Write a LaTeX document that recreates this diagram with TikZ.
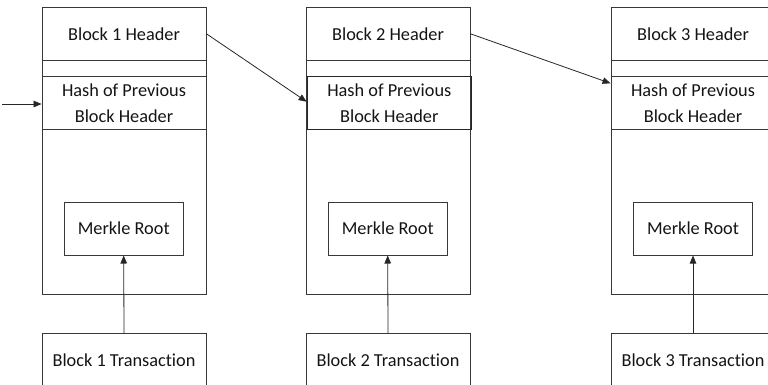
\documentclass[tikz,border=0pt]{standalone}
\usepackage{fontspec}
\setmainfont[Ligatures={NoCommon}]{Carlito}
\usetikzlibrary{arrows.meta}
\begin{document}
\begin{tikzpicture}[x=1pt,y=-1pt,
  every node/.style={font=\fontsize{18.3}{26}\selectfont, text=black!92},
  box/.style={draw=black!78, line width=0.9pt, inner sep=0pt, align=center, anchor=center},
  outerbox/.style={box, minimum width=164pt, minimum height=287pt},
  headbox/.style={box, minimum width=164pt, minimum height=53pt},
  hashbox/.style={box, minimum width=164pt, minimum height=52.6pt},
  merklebox/.style={box, minimum width=118.7pt, minimum height=52.7pt},
  txbox/.style={box, minimum width=164pt, minimum height=53pt},
  link/.style={draw=black!85, line width=0.8pt, -{Triangle[length=8pt,width=6.5pt]}}
]
\useasboundingbox (0,0) rectangle (768,384);
% Block 1
\node[outerbox] (o1) at (124,150.8) {};
\node[headbox] (hd1) at (124,33.8) {Block 1 Header};
\node[hashbox] (h1) at (124,103) {Hash of Previous\\Block Header};
\node[merklebox] (m1) at (123.7,228.7) {Merkle Root};
\node[txbox] (t1) at (124,360) {Block 1 Transaction};
% Block 2
\node[outerbox] (o2) at (388,150.8) {};
\node[headbox] (hd2) at (388,33.8) {Block 2 Header};
\node[hashbox, line width=1.3pt, draw=black!85] (h2) at (389.3,103) {Hash of Previous\\Block Header};
\node[merklebox] (m2) at (387.7,228.7) {Merkle Root};
\node[txbox] (t2) at (388,360) {Block 2 Transaction};
% Block 3
\node[outerbox] (o3) at (693,150.8) {};
\node[headbox] (hd3) at (693,33.8) {Block 3 Header};
\node[hashbox] (h3) at (693,103) {Hash of Previous\\Block Header};
\node[merklebox] (m3) at (693,228.7) {Merkle Root};
\node[txbox] (t3) at (693,360) {Block 3 Transaction};
% connectors
\coordinate (start) at (2,104);
\draw[link] (start) -- ([yshift=-1pt]h1.west);
\draw[link] (hd1.east) -- ([yshift=1.3pt]h2.west);
\draw[link] (hd2.east) -- ([yshift=19.7pt]h3.west);
\draw[link] (t1.north) -- (m1.south);
\draw[link] (t2.north) -- (m2.south);
\draw[link] (t3.north) -- (m3.south);
\end{tikzpicture}
\end{document}
